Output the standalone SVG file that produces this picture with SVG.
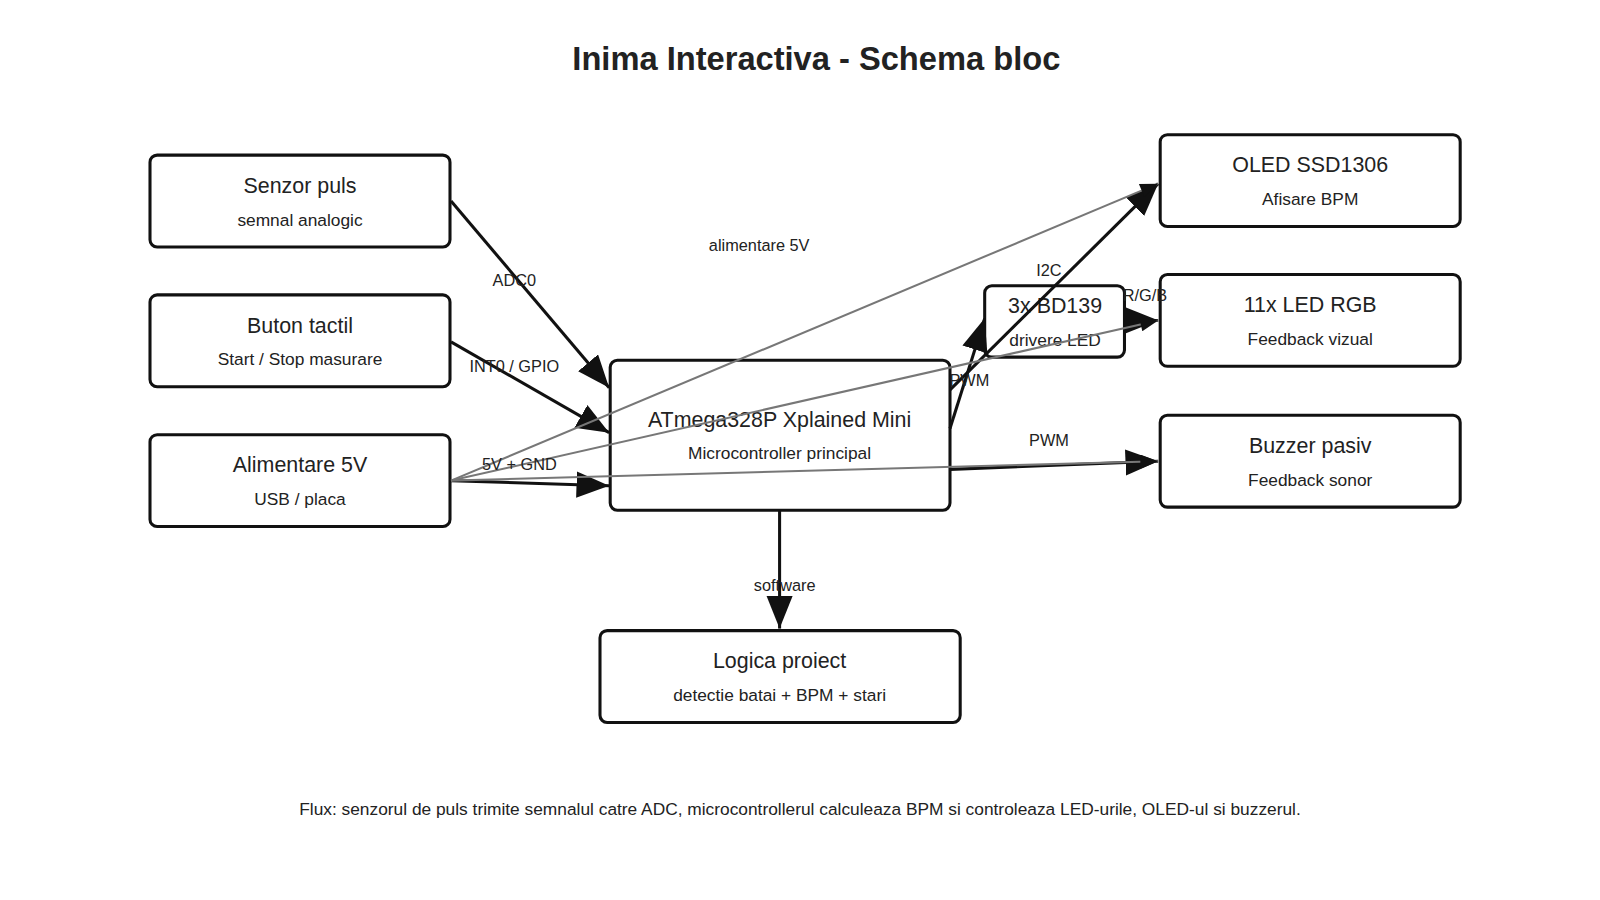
<svg xmlns="http://www.w3.org/2000/svg" width="1600" height="900" viewBox="0 0 1600 900">
<defs>
<marker id="abig" viewBox="0 0 10 8" refX="10" refY="4" markerWidth="32" markerHeight="26" orient="auto" markerUnits="userSpaceOnUse"><path d="M0,0 L10,4 L0,8 Z" fill="#111"/></marker>
<marker id="ag" viewBox="0 0 10 8" refX="10" refY="4" markerWidth="22" markerHeight="14" orient="auto" markerUnits="userSpaceOnUse"><path d="M0,0 L10,4 L0,8 Z" fill="#111"/></marker>
</defs>
<style>
text{font-family:"Liberation Sans",Arial,sans-serif;fill:#222;text-anchor:middle}
.box{fill:#fff;stroke:#111;stroke-width:3}
.t{font-size:21px}.s{font-size:17px}.l{font-size:16px}
.c{stroke:#111;stroke-width:3;fill:none;marker-end:url(#abig)}
.g{stroke:#777;stroke-width:2;fill:none;marker-end:url(#ag)}
</style>
<rect width="1600" height="900" fill="#fff"/>
<g transform="scale(1.0204)">
<text x="800" y="69" style="font-size:32px;font-weight:bold">Inima Interactiva - Schema bloc</text>
<g id="senzor"><rect class="box" x="147" y="152" width="294" height="90" rx="7"/><text class="t" x="294" y="189">Senzor puls</text><text class="s" x="294" y="221">semnal analogic</text></g>
<g id="buton"><rect class="box" x="147" y="289" width="294" height="90" rx="7"/><text class="t" x="294" y="326">Buton tactil</text><text class="s" x="294" y="358">Start / Stop masurare</text></g>
<g id="alim"><rect class="box" x="147" y="426" width="294" height="90" rx="7"/><text class="t" x="294" y="463">Alimentare 5V</text><text class="s" x="294" y="495">USB / placa</text></g>
<g id="mcu"><rect class="box" x="598" y="353" width="333" height="147" rx="7"/><text class="t" x="764" y="418">ATmega328P Xplained Mini</text><text class="s" x="764" y="450">Microcontroller principal</text></g>
<g id="bd139"><rect class="box" x="965" y="280" width="137" height="70" rx="7"/><text class="t" x="1034" y="307">3x BD139</text><text class="s" x="1034" y="339">drivere LED</text></g>
<g id="oled"><rect class="box" x="1137" y="132" width="294" height="90" rx="7"/><text class="t" x="1284" y="169">OLED SSD1306</text><text class="s" x="1284" y="201">Afisare BPM</text></g>
<g id="led"><rect class="box" x="1137" y="269" width="294" height="90" rx="7"/><text class="t" x="1284" y="306">11x LED RGB</text><text class="s" x="1284" y="338">Feedback vizual</text></g>
<g id="buzzer"><rect class="box" x="1137" y="407" width="294" height="90" rx="7"/><text class="t" x="1284" y="444">Buzzer pasiv</text><text class="s" x="1284" y="476">Feedback sonor</text></g>
<g id="logica"><rect class="box" x="588" y="618" width="353" height="90" rx="7"/><text class="t" x="764" y="655">Logica proiect</text><text class="s" x="764" y="687">detectie batai + BPM + stari</text></g>
<g id="connectors">
<line class="c" x1="442" y1="197" x2="597" y2="380"/>
<line class="c" x1="442" y1="335" x2="597" y2="424"/>
<line class="c" x1="442" y1="471" x2="597" y2="476"/>
<line class="c" x1="931" y1="382" x2="1135" y2="180"/>
<line class="c" x1="931" y1="420" x2="965" y2="312"/>
<line class="c" x1="1102" y1="314" x2="1135" y2="314"/>
<line class="c" x1="931" y1="460" x2="1135" y2="452"/>
<line class="c" x1="764" y1="500" x2="764" y2="616"/>
<line class="g" x1="442" y1="471" x2="1135" y2="180"/>
<line class="g" x1="442" y1="471" x2="1135" y2="314"/>
<line class="g" x1="442" y1="471" x2="1135" y2="452"/>
<text class="l" x="504" y="280">ADC0</text>
<text class="l" x="504" y="365">INT0 / GPIO</text>
<text class="l" x="509" y="461">5V + GND</text>
<text class="l" x="744" y="246">alimentare 5V</text>
<text class="l" x="1028" y="270">I2C</text>
<text class="l" x="950" y="378">PWM</text>
<text class="l" x="1122" y="295">R/G/B</text>
<text class="l" x="1028" y="437">PWM</text>
<text class="l" x="769" y="579">software</text>
</g>
<text class="s" x="784" y="799">Flux: senzorul de puls trimite semnalul catre ADC, microcontrollerul calculeaza BPM si controleaza LED-urile, OLED-ul si buzzerul.</text>
</g>
</svg>
